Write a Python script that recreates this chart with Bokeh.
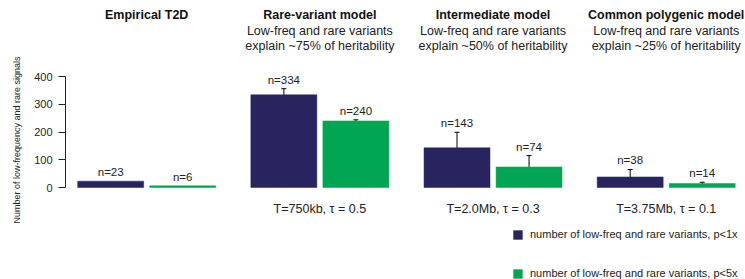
from bokeh.plotting import figure
from bokeh.models import Range1d, FixedTicker, ColumnDataSource, Whisker, TeeHead, Legend, LegendItem, Title
from bokeh.core.properties import value
from bokeh.embed import file_html
from bokeh.resources import INLINE

# ---------------- data ----------------
groups = ["Empirical T2D", "Rare-variant model", "Intermediate model", "Common polygenic model"]
sub_line1 = ["", "Low-freq and rare variants", "Low-freq and rare variants", "Low-freq and rare variants"]
sub_line2 = ["", "explain ~75% of heritability", "explain ~50% of heritability", "explain ~25% of heritability"]
params = ["", "T=750kb, \u03c4 = 0.5", "T=2.0Mb, \u03c4 = 0.3", "T=3.75Mb, \u03c4 = 0.1"]

strict_n = [23, 334, 143, 38]
strict_lo = [None, 319, 85, 10]
strict_hi = [None, 356, 199, 65]

lenient_n = [6, 240, 74, 14]
lenient_lo = [None, 237, 29, 5]
lenient_hi = [None, 244, 115, 19]

y_ticks = [0, 100, 200, 300, 400]
legend_labels = ["number of low-freq and rare variants, p<1x",
                 "number of low-freq and rare variants, p<5x"]
y_label = "Number of low-frequency and rare signals"

# ---------------- style ----------------
NAVY = "#27245f"
GREEN = "#00a651"
TXT = "#222222"
FONT = "Liberation Sans"
OFF = 0.208
BW = 0.381

W, H = 745, 279
p = figure(width=W, height=H, output_backend="svg", toolbar_location=None,
           x_range=Range1d(-0.469, 3.458), y_range=Range1d(-331.5, 673.9),
           min_border_left=65, min_border_right=0, min_border_top=0, min_border_bottom=0)
p.outline_line_color = None
p.xgrid.visible = False
p.ygrid.visible = False
p.xaxis.visible = False
p.background_fill_color = "white"
p.border_fill_color = "white"

idx = list(range(len(groups)))
x1 = [i - OFF for i in idx]
x2 = [i + OFF for i in idx]

src1 = ColumnDataSource(dict(x=x1, top=strict_n, lab=[f"n={v}" for v in strict_n],
                             ly=[h if h is not None else v for v, h in zip(strict_n, strict_hi)]))
src2 = ColumnDataSource(dict(x=x2, top=lenient_n, lab=[f"n={v}" for v in lenient_n],
                             ly=[h if h is not None else v for v, h in zip(lenient_n, lenient_hi)]))

r1 = p.vbar(x="x", top="top", bottom=0, width=BW, source=src1, fill_color=NAVY, line_color=NAVY, line_width=0.5)
r2 = p.vbar(x="x", top="top", bottom=0, width=BW, source=src2, fill_color=GREEN, line_color=GREEN, line_width=0.5)

# error bars
def whisk(xs, lo, hi):
    xx = [x for x, l in zip(xs, lo) if l is not None]
    ll = [l for l in lo if l is not None]
    hh = [h for h in hi if h is not None]
    s = ColumnDataSource(dict(base=xx, lower=ll, upper=hh))
    w = Whisker(base="base", lower="lower", upper="upper", source=s,
                line_color="black", line_width=1,
                upper_head=TeeHead(size=5, line_color="black", line_width=1),
                lower_head=TeeHead(size=5, line_color="black", line_width=1))
    p.add_layout(w)

whisk(x1, strict_lo, strict_hi)
whisk(x2, lenient_lo, lenient_hi)

# n labels
for s in (src1, src2):
    p.text(x="x", y="ly", text="lab", source=s, text_align="center", text_baseline="bottom",
           y_offset=-3, text_font=value(FONT), text_font_size="11.5px", text_color=TXT)

# titles / subtitles / params
p.text(x=idx, y=[620] * 4, text=groups, text_align="center", text_baseline="middle",
       text_font=value(FONT), text_font_style="bold", text_font_size="12.5px", text_color="#111111")
p.text(x=idx, y=[563] * 4, text=sub_line1, text_align="center", text_baseline="middle",
       text_font=value(FONT), text_font_size="12.5px", text_color=TXT)
p.text(x=idx, y=[509] * 4, text=sub_line2, text_align="center", text_baseline="middle",
       text_font=value(FONT), text_font_size="12.5px", text_color=TXT)
p.text(x=idx, y=[-78] * 4, text=params, text_align="center", text_baseline="middle",
       text_font=value(FONT), text_font_size="12.5px", text_color=TXT)

# y axis
ax = p.yaxis[0]
ax.bounds = (0, 400)
ax.ticker = FixedTicker(ticks=y_ticks)
ax.minor_tick_line_color = None
ax.major_tick_in = 0
ax.major_tick_out = 7
ax.major_label_standoff = 6
ax.major_label_text_font = FONT
ax.major_label_text_font_size = "11px"
ax.major_label_text_color = TXT
ax.axis_line_color = "#222222"
ax.major_tick_line_color = "#222222"

# y axis title as a left-side title, shifted up to sit beside the axis
p.add_layout(Title(text=y_label, align="center", offset=23, standoff=19,
                   text_font=FONT, text_font_size="9px", text_font_style="normal",
                   text_color=TXT), "left")

# legend
legend = Legend(items=[LegendItem(label=legend_labels[0], renderers=[r1]),
                       LegendItem(label=legend_labels[1], renderers=[r2])],
                location=(447, 0), padding=0, margin=0, spacing=27,
                glyph_width=11, glyph_height=11, label_height=11, label_standoff=7,
                label_text_font=FONT, label_text_font_size="11px", label_text_color=TXT,
                border_line_alpha=0, background_fill_alpha=0)
p.add_layout(legend)

open("out.html", "w").write(file_html(p, INLINE))
